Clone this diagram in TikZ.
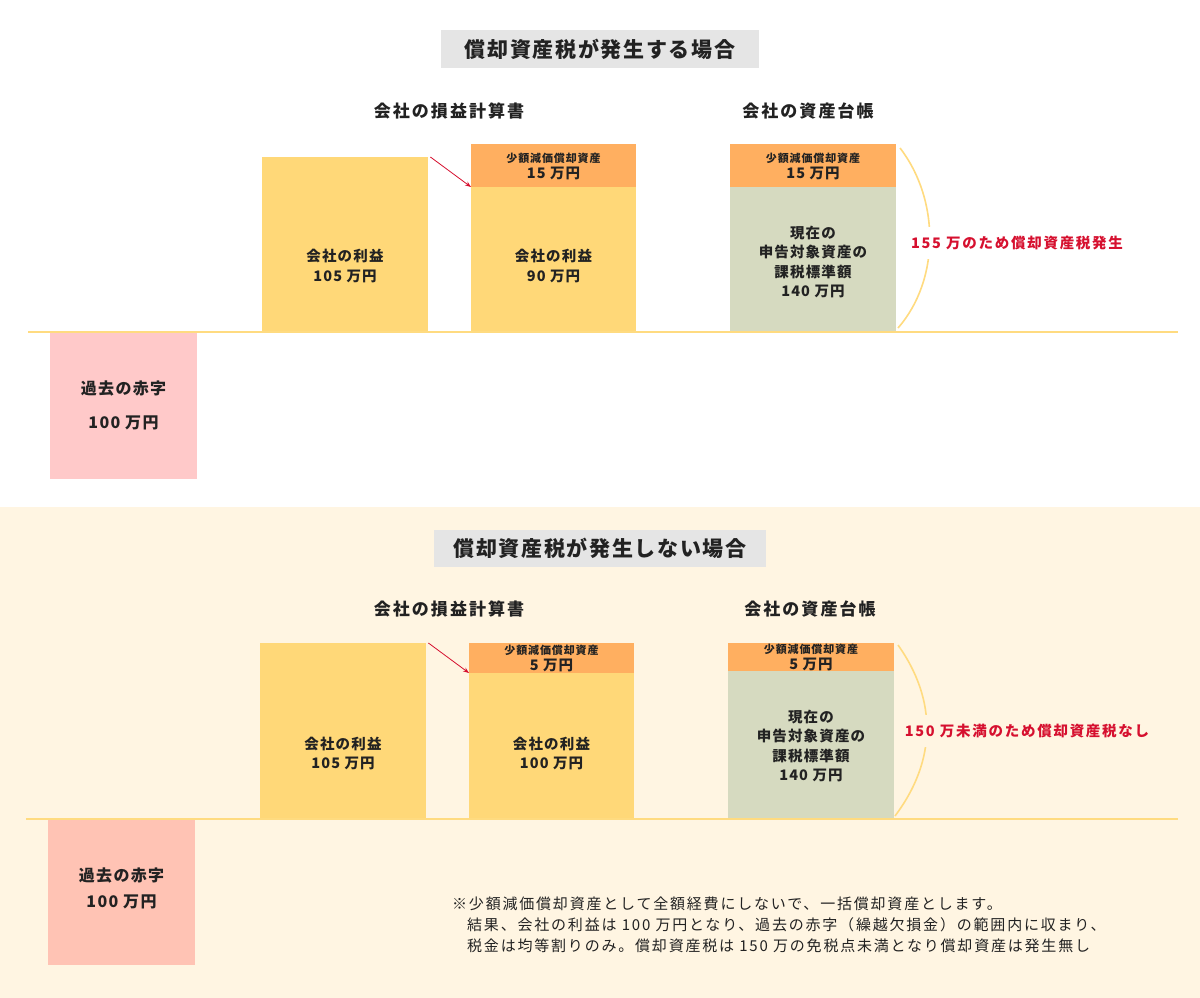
\documentclass[tikz,border=0pt]{standalone}
\usepackage{fontspec}
\setmainfont{Noto Sans CJK JP}
\usetikzlibrary{arrows.meta}
\definecolor{bgcream}{HTML}{FFF5E2}
\definecolor{titlegray}{HTML}{E5E5E5}
\definecolor{profit}{HTML}{FFD878}
\definecolor{small}{HTML}{FFAF60}
\definecolor{asset}{HTML}{D6DAC0}
\definecolor{lossA}{HTML}{FFC9C9}
\definecolor{lossB}{HTML}{FFC3B4}
\definecolor{baseln}{HTML}{FFDB80}
\definecolor{redtxt}{HTML}{D6102F}
\definecolor{ink}{HTML}{222222}
\newcommand{\trk}[1]{\addfontfeature{LetterSpace=#1}}
\tikzset{
  blk/.style={rectangle, inner sep=0pt, anchor=north west, draw=none},
  ttl/.style={fill=titlegray, inner sep=0pt, text=ink, font=\fontsize{21}{24}\selectfont\bfseries\trk{8}},
  sub/.style={text=ink, font=\fontsize{17}{20}\selectfont\bfseries\trk{12}},
  lbl/.style={text=ink, align=center, font=\fontsize{14.5}{19.5}\selectfont\bfseries\trk{8}},
  plbl/.style={text=ink, align=center, font=\fontsize{16}{20}\selectfont\bfseries\trk{8}},
  slbl/.style={text=ink, align=center, font=\fontsize{14.5}{16}\selectfont\bfseries\trk{8}},
  red/.style={text=redtxt, inner xsep=2pt, inner ysep=9pt, font=\fontsize{14.5}{18}\selectfont\bfseries\trk{12}},
  base/.style={draw=baseln, line width=2pt},
  brace/.style={draw=baseln, line width=1.6pt},
  arr/.style={draw=redtxt, line width=0.8pt, -{Stealth[length=6pt,width=4.5pt]}},
  note/.style={text=ink, anchor=west, inner sep=0pt, font=\fontsize{15}{18}\selectfont\trk{12}}
}
\newcommand{\smalltxt}[1]{{\fontsize{11}{13}\selectfont #1}}
\begin{document}
\begin{tikzpicture}[x=1pt,y=-1pt]
\useasboundingbox (0,0) rectangle (1200,998);
\fill[white] (0,0) rectangle (1200,507);
\fill[bgcream] (0,507) rectangle (1200,998);

% ===== Top section =====
\node[ttl, minimum width=318pt, minimum height=38pt] (t1) at (600,49) {償却資産税が発生する場合};
\node[sub] (s1a) at (449,111) {会社の損益計算書};
\node[sub] (s1b) at (808,111) {会社の資産台帳};

\node[blk, fill=profit, minimum width=166pt, minimum height=175pt] (a1) at (262,157) {};
\node[lbl] (a1t) at (345,266) {会社の利益\\105 万円};

\node[blk, fill=small, minimum width=165pt, minimum height=43pt] (b1o) at (471,144) {};
\node[blk, fill=profit, minimum width=165pt, minimum height=145pt] (b1y) at (471,187) {};
\node[slbl] (b1ot) at (553.5,166) {\smalltxt{少額減価償却資産}\\15 万円};
\node[lbl] (b1t) at (553.5,266) {会社の利益\\90 万円};

\node[blk, fill=small, minimum width=166pt, minimum height=43pt] (c1o) at (730,144) {};
\node[blk, fill=asset, minimum width=166pt, minimum height=145pt] (c1g) at (730,187) {};
\node[slbl] (c1ot) at (813,166) {\smalltxt{少額減価償却資産}\\15 万円};
\node[lbl] (c1t) at (813,262) {現在の\\申告対象資産の\\課税標準額\\140 万円};

\draw[arr] (a1.north east) ++(2,0) coordinate (ar1s) -- (b1y.north west) ;

\coordinate (br1s) at (900,148);
\coordinate (br1e) at (898,328);
\draw[brace] (br1s) .. controls (940,200) and (940,280) .. (br1e);
\node[red, fill=white] (r1) at (1017,243) {155 万のため償却資産税発生};

\draw[base] (28,332) coordinate (l1s) -- (1178,332) coordinate (l1e);

\node[blk, fill=lossA, minimum width=147pt, minimum height=146pt] (p1) at (50,333) {};
\node[plbl] (p1a) at (123.5,388) {過去の赤字};
\node[plbl] (p1b) at (123.5,423) {100 万円};

% ===== Bottom section =====
\node[ttl, minimum width=332pt, minimum height=37pt] (t2) at (600,548.5) {償却資産税が発生しない場合};
\node[sub] (s2a) at (449,609) {会社の損益計算書};
\node[sub] (s2b) at (810,609) {会社の資産台帳};

\node[blk, fill=profit, minimum width=166pt, minimum height=175pt] (a2) at (260,643) {};
\node[lbl] (a2t) at (343,753.5) {会社の利益\\105 万円};

\node[blk, fill=small, minimum width=165pt, minimum height=30pt] (b2o) at (469,643) {};
\node[blk, fill=profit, minimum width=165pt, minimum height=145pt] (b2y) at (469,673) {};
\node[slbl] (b2ot) at (551.5,658) {\smalltxt{少額減価償却資産}\\5 万円};
\node[lbl] (b2t) at (551.5,753.5) {会社の利益\\100 万円};

\node[blk, fill=small, minimum width=166pt, minimum height=28pt] (c2o) at (728,643) {};
\node[blk, fill=asset, minimum width=166pt, minimum height=147pt] (c2g) at (728,671) {};
\node[slbl] (c2ot) at (811,657) {\smalltxt{少額減価償却資産}\\5 万円};
\node[lbl] (c2t) at (811,746) {現在の\\申告対象資産の\\課税標準額\\140 万円};

\draw[arr] (a2.north east) ++(2,0) coordinate (ar2s) -- (b2y.north west);

\coordinate (br2s) at (898,645);
\coordinate (br2e) at (895,816);
\draw[brace] (br2s) .. controls (937,700) and (937,760) .. (br2e);
\node[red, fill=bgcream] (r2) at (1027,731) {150 万未満のため償却資産税なし};

\draw[base] (26,819) coordinate (l2s) -- (1178,819) coordinate (l2e);

\node[blk, fill=lossB, minimum width=147pt, minimum height=145pt] (p2) at (48,820) {};
\node[plbl] (p2a) at (121.5,875) {過去の赤字};
\node[plbl] (p2b) at (121.5,902) {100 万円};

\node[note] (n1) at (452,904) {※少額減価償却資産として全額経費にしないで、一括償却資産とします。};
\node[note] (n2) at (467,925) {結果、会社の利益は 100 万円となり、過去の赤字（繰越欠損金）の範囲内に収まり、};
\node[note] (n3) at (467,946) {税金は均等割りのみ。償却資産税は 150 万の免税点未満となり償却資産は発生無し};
\end{tikzpicture}
\end{document}
